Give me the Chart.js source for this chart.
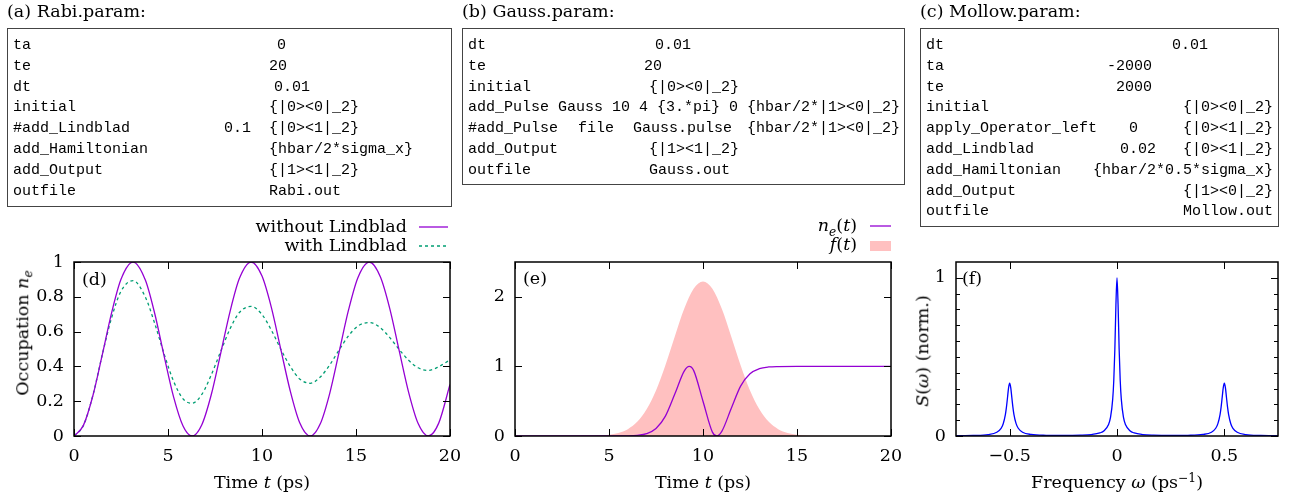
<!DOCTYPE html>
<html>
<head>
<meta charset="utf-8">
<script src="https://cdn.jsdelivr.net/npm/chart.js@4.4.1/dist/chart.umd.min.js"></script>
<style>
  body { margin: 0; background: #fff; }
  #page { position: relative; width: 1292px; height: 500px; overflow: hidden;
          font-family: 'DejaVu Serif', serif; font-size: 17.5px; color: #000; }
  canvas { position: absolute; left: 0; top: 0; }
  .t { position: absolute; white-space: nowrap; line-height: 1; }
  .c { transform: translate(-50%, -50%); }
  .r { transform: translate(-100%, -50%); }
  .l { transform: translateY(-50%); }
  .rot { transform: translate(-50%, -50%) rotate(-90deg); }
  .box { position: absolute; border: 1.3px solid #444; box-sizing: border-box; }
  .mono { position: absolute; white-space: nowrap; font-family: 'Liberation Mono', monospace;
          font-size: 15px; line-height: 20.8px; }
  sub { font-size: 0.7em; vertical-align: -0.35em; line-height: 0; }
  sup { font-size: 0.7em; vertical-align: 0.55em; line-height: 0; }
  svg { position: absolute; left: 0; top: 0; }
</style>
</head>
<body>
<div id="page">
  <canvas id="rabi" width="1292" height="500"></canvas>
  <canvas id="gauss" width="1292" height="500"></canvas>
  <canvas id="mollow" width="1292" height="500"></canvas>

  <div class="t l" style="left:7px; top:12px;">(a) Rabi.param:</div>
  <div class="t l" style="left:462px; top:12px;">(b) Gauss.param:</div>
  <div class="t l" style="left:920px; top:12px;">(c) Mollow.param:</div>

  <!-- panel labels -->
  <div class="t l" style="left:82px; top:280px;">(d)</div>
  <div class="t l" style="left:523px; top:279px;">(e)</div>
  <div class="t l" style="left:962px; top:279px;">(f)</div>

  <!-- axis titles -->
  <div class="t rot" style="left:23px; top:333px;">Occupation <i>n</i><sub><i>e</i></sub></div>
  <div class="t c" style="left:262px; top:483px;">Time <i>t</i> (ps)</div>
  <div class="t c" style="left:703px; top:483px;">Time <i>t</i> (ps)</div>
  <div class="t rot" style="left:923px; top:351px;"><i>S</i>(<i>ω</i>) (norm.)</div>
  <div class="t c" style="left:1117px; top:483px;">Frequency <i>ω</i> (ps<sup>−1</sup>)</div>

  <!-- legends -->
  <div class="t r" style="left:407px; top:227px;">without Lindblad</div>
  <div class="t r" style="left:407px; top:246px;">with Lindblad</div>
  <div class="t r" style="left:857px; top:226px;"><i>n</i><sub><i>e</i></sub>(<i>t</i>)</div>
  <div class="t r" style="left:857px; top:245px;"><i>f</i>(<i>t</i>)</div>
  <svg width="1292" height="500">
    <line x1="419" y1="227" x2="448" y2="227" stroke="#9400d3" stroke-width="1.3"/>
    <line x1="419" y1="246" x2="448" y2="246" stroke="#009e73" stroke-width="1.3" stroke-dasharray="3,3"/>
    <line x1="870" y1="226" x2="891" y2="226" stroke="#9400d3" stroke-width="1.3"/>
    <rect x="870" y="241" width="21" height="10" fill="#ffc0c0"/>
  </svg>
</div>

<script>
// (d) Rabi-Oszillation, mit und ohne Lindblad
const rabiT = [0, 0.5, 1, 1.5, 2, 2.5, 3.14, 3.8, 4.3, 4.8, 5.3, 5.8, 6.28, 6.8, 7.3, 7.8, 8.3, 8.8,
  9.42, 10, 10.5, 11, 11.5, 12, 12.57, 13.1, 13.6, 14.1, 14.6, 15.1, 15.71, 16.3, 16.8, 17.3, 17.8,
  18.3, 18.85, 19.4, 20];
const rabiFree = [0, 0.061, 0.230, 0.465, 0.708, 0.901, 1, 0.895, 0.701, 0.456, 0.223, 0.057, 0,
  0.065, 0.237, 0.474, 0.715, 0.906, 1, 0.919, 0.738, 0.498, 0.260, 0.078, 0, 0.070, 0.244, 0.482,
  0.723, 0.910, 1, 0.914, 0.731, 0.489, 0.251, 0.073, 0, 0.074, 0.296];
const rabiLind = [0, 0.06, 0.232, 0.466, 0.68, 0.832, 0.893, 0.797, 0.645, 0.469, 0.314, 0.213,
  0.188, 0.239, 0.351, 0.485, 0.616, 0.710, 0.745, 0.698, 0.608, 0.499, 0.400, 0.328, 0.303, 0.339,
  0.408, 0.494, 0.575, 0.632, 0.652, 0.622, 0.565, 0.497, 0.435, 0.392, 0.377, 0.398, 0.438];
const rabiXTicks = [0, 5, 10, 15, 20];
const rabiYTicks = [0, 0.2, 0.4, 0.6, 0.8, 1];
const rabiYLabels = ['0', '0.2', '0.4', '0.6', '0.8', '1'];

// (e) Gauss-Puls
const gaussT = [0, 5, 6, 6.5, 7, 7.5, 8, 8.5, 9, 9.27, 9.5, 10, 10.5, 10.73, 11, 11.5, 12, 12.5,
  13, 13.5, 14, 15, 20];
const gaussOcc = [0, 0, 0.002, 0.009, 0.033, 0.107, 0.285, 0.602, 0.932, 1, 0.943, 0.5, 0.056, 0,
  0.067, 0.395, 0.717, 0.894, 0.967, 0.992, 0.998, 1, 1];
const pulseT = [0, 0.5, 1, 1.5, 2, 2.5, 3, 3.5, 4, 4.5, 5, 5.5, 6, 6.5, 7, 7.5, 8, 8.5, 9, 9.5, 10,
  10.5, 11, 11.5, 12, 12.5, 13, 13.5, 14, 14.5, 15, 15.5, 16, 16.5, 17, 17.5, 18, 18.5, 19, 19.5, 20];
const pulseF = [0, 0, 0, 0, 0, 0, 0, 0, 0.002, 0.006, 0.017, 0.043, 0.098, 0.203, 0.383, 0.655,
  1.017, 1.431, 1.827, 2.114, 2.22, 2.114, 1.827, 1.431, 1.017, 0.655, 0.383, 0.203, 0.098, 0.043,
  0.017, 0.006, 0.002, 0, 0, 0, 0, 0, 0, 0, 0];
const gaussXTicks = [0, 5, 10, 15, 20];
const gaussYTicks = [0, 1, 2];
const gaussYLabels = ['0', '1', '2'];

// (f) Mollow-Triplett
const mollowW = [-0.75, -0.67, -0.6, -0.56, -0.54, -0.53, -0.52, -0.515, -0.51, -0.505, -0.5,
  -0.495, -0.49, -0.485, -0.48, -0.47, -0.46, -0.44, -0.4, -0.33, -0.25, -0.17, -0.12, -0.08, -0.06,
  -0.04, -0.03, -0.02, -0.015, -0.01, -0.005, 0, 0.005, 0.01, 0.015, 0.02, 0.03, 0.04, 0.06, 0.08,
  0.12, 0.17, 0.25, 0.33, 0.4, 0.44, 0.46, 0.47, 0.48, 0.485, 0.49, 0.495, 0.5, 0.505, 0.51, 0.515,
  0.52, 0.53, 0.54, 0.56, 0.6, 0.67, 0.75];
const mollowS = [0.0017, 0.0034, 0.0092, 0.0238, 0.0485, 0.0775, 0.135, 0.1825, 0.2435, 0.3055,
  0.3335, 0.3055, 0.244, 0.183, 0.1355, 0.078, 0.049, 0.0241, 0.0097, 0.0044, 0.0035, 0.0052,
  0.0092, 0.0193, 0.0333, 0.071, 0.119, 0.233, 0.351, 0.549, 0.830, 1.0, 0.830, 0.549, 0.351, 0.233,
  0.119, 0.071, 0.0333, 0.0193, 0.0092, 0.0052, 0.0035, 0.0044, 0.0097, 0.0241, 0.049, 0.078,
  0.1355, 0.183, 0.244, 0.3055, 0.3335, 0.3055, 0.2435, 0.1825, 0.135, 0.0775, 0.0485, 0.0238,
  0.0092, 0.0034, 0.0017];
const mollowXTicks = [-0.5, 0, 0.5];
const mollowXLabels = ['−0.5', '0', '0.5'];
const mollowYTicks = [0, 0.1, 0.2, 0.3, 0.4, 0.5, 0.6, 0.7, 0.8, 0.9, 1];
const mollowYLabels = ['0', '', '', '', '', '', '', '', '', '', '1'];

// Parameterdateien (Textkästen oben)
const boxes = [
  { left: 7, top: 28, width: 445, height: 179, rows: [
    [['ta', 13], ['0', 277]],
    [['te', 13], ['20', 269]],
    [['dt', 13], ['0.01', 274]],
    [['initial', 13], ['{|0><0|_2}', 269]],
    [['#add_Lindblad', 13], ['0.1', 224], ['{|0><1|_2}', 269]],
    [['add_Hamiltonian', 13], ['{hbar/2*sigma_x}', 269]],
    [['add_Output', 13], ['{|1><1|_2}', 269]],
    [['outfile', 13], ['Rabi.out', 269]]
  ]},
  { left: 462, top: 28, width: 443, height: 157, rows: [
    [['dt', 468], ['0.01', 655]],
    [['te', 468], ['20', 644]],
    [['initial', 468], ['{|0><0|_2}', 649]],
    [['add_Pulse Gauss 10 4 {3.*pi} 0 {hbar/2*|1><0|_2}', 468]],
    [['#add_Pulse', 468], ['file', 578], ['Gauss.pulse', 633], ['{hbar/2*|1><0|_2}', 900, 'r']],
    [['add_Output', 468], ['{|1><1|_2}', 649]],
    [['outfile', 468], ['Gauss.out', 649]]
  ]},
  { left: 920, top: 28, width: 359, height: 199, rows: [
    [['dt', 926], ['0.01', 1208, 'r']],
    [['ta', 926], ['-2000', 1152, 'r']],
    [['te', 926], ['2000', 1152, 'r']],
    [['initial', 926], ['{|0><0|_2}', 1273, 'r']],
    [['apply_Operator_left', 926], ['0', 1138, 'r'], ['{|0><1|_2}', 1273, 'r']],
    [['add_Lindblad', 926], ['0.02', 1156, 'r'], ['{|0><1|_2}', 1273, 'r']],
    [['add_Hamiltonian', 926], ['{hbar/2*0.5*sigma_x}', 1273, 'r']],
    [['add_Output', 926], ['{|1><0|_2}', 1273, 'r']],
    [['outfile', 926], ['Mollow.out', 1273, 'r']]
  ]}
];

const W = 1292, H = 500, Y_W = 60, X_H = 40;
const page = document.getElementById('page');

boxes.forEach(b => {
  const div = document.createElement('div');
  div.className = 'box';
  Object.assign(div.style, { left: b.left + 'px', top: b.top + 'px', width: b.width + 'px', height: b.height + 'px' });
  page.appendChild(div);
  b.rows.forEach((row, i) => {
    row.forEach(([text, x, align]) => {
      const s = document.createElement('span');
      s.className = 'mono';
      s.textContent = text;
      s.style.top = (b.top + 8 + i * 20.8) + 'px';
      if (align === 'r') s.style.right = (W - x) + 'px';
      else s.style.left = x + 'px';
      page.appendChild(s);
    });
  });
});

Chart.defaults.font.family = "'DejaVu Serif', serif";
Chart.defaults.font.size = 17.5;
Chart.defaults.color = '#000';

// gnuplot-artiger Rahmen mit Ticks nach innen (auch gespiegelt)
const gnuFrame = {
  id: 'gnuFrame',
  afterDatasetsDraw(chart) {
    const { ctx, chartArea: a } = chart;
    const xs = chart.scales.x, ys = chart.scales.y;
    ctx.save();
    ctx.strokeStyle = '#000';
    ctx.lineWidth = 1;
    ctx.beginPath();
    xs.ticks.forEach(t => {
      const px = Math.round(xs.getPixelForValue(t.value)) + 0.5;
      const len = t.label === '' ? 4 : 7;
      ctx.moveTo(px, a.bottom); ctx.lineTo(px, a.bottom - len);
      ctx.moveTo(px, a.top); ctx.lineTo(px, a.top + len);
    });
    ys.ticks.forEach(t => {
      const py = Math.round(ys.getPixelForValue(t.value)) + 0.5;
      const len = t.label === '' ? 4 : 7;
      ctx.moveTo(a.left, py); ctx.lineTo(a.left + len, py);
      ctx.moveTo(a.right, py); ctx.lineTo(a.right - len, py);
    });
    ctx.stroke();
    ctx.lineWidth = 1.5;
    ctx.strokeRect(a.left, a.top, a.right - a.left, a.bottom - a.top);
    ctx.restore();
  }
};

function axis(spec, dir) {
  return {
    type: 'linear',
    min: spec.min,
    max: spec.max,
    afterBuildTicks: s => { s.ticks = spec.ticks.map(v => ({ value: v })); },
    afterFit: s => { if (dir === 'x') s.height = X_H; else s.width = Y_W; },
    ticks: {
      callback: (v, i) => spec.labels[i],
      autoSkip: false,
      maxRotation: 0,
      padding: dir === 'x' ? 10 : 10
    },
    grid: { display: false, drawTicks: false },
    border: { display: false }
  };
}

function plot(id, area, datasets, x, y) {
  return new Chart(document.getElementById(id), {
    type: 'line',
    data: { datasets },
    options: {
      responsive: false,
      animation: false,
      layout: { padding: { left: area.left - Y_W, top: area.top, right: W - area.right, bottom: H - area.bottom - X_H } },
      plugins: { legend: { display: false }, tooltip: { enabled: false } },
      elements: { point: { radius: 0 }, line: { cubicInterpolationMode: 'monotone', borderWidth: 1.3 } },
      scales: { x: axis(x, 'x'), y: axis(y, 'y') }
    },
    plugins: [gnuFrame]
  });
}

const pts = (xs, ys) => xs.map((v, i) => ({ x: v, y: ys[i] }));

plot('rabi', { left: 74, top: 262, right: 450, bottom: 436 }, [
  { data: pts(rabiT, rabiFree), borderColor: '#9400d3' },
  { data: pts(rabiT, rabiLind), borderColor: '#009e73', borderDash: [3, 3] }
], { min: 0, max: 20, ticks: rabiXTicks, labels: rabiXTicks.map(String) },
   { min: 0, max: 1, ticks: rabiYTicks, labels: rabiYLabels });

plot('gauss', { left: 515, top: 262, right: 891, bottom: 436 }, [
  { data: pts(gaussT, gaussOcc), borderColor: '#9400d3' },
  { data: pts(pulseT, pulseF), borderWidth: 0, backgroundColor: '#ffc0c0', fill: 'origin' }
], { min: 0, max: 20, ticks: gaussXTicks, labels: gaussXTicks.map(String) },
   { min: 0, max: 2.5, ticks: gaussYTicks, labels: gaussYLabels });

plot('mollow', { left: 956, top: 262, right: 1278, bottom: 436 }, [
  { data: pts(mollowW, mollowS), borderColor: '#0000ff' }
], { min: -0.75, max: 0.75, ticks: mollowXTicks, labels: mollowXLabels },
   { min: 0, max: 1.1, ticks: mollowYTicks, labels: mollowYLabels });
</script>
</body>
</html>
